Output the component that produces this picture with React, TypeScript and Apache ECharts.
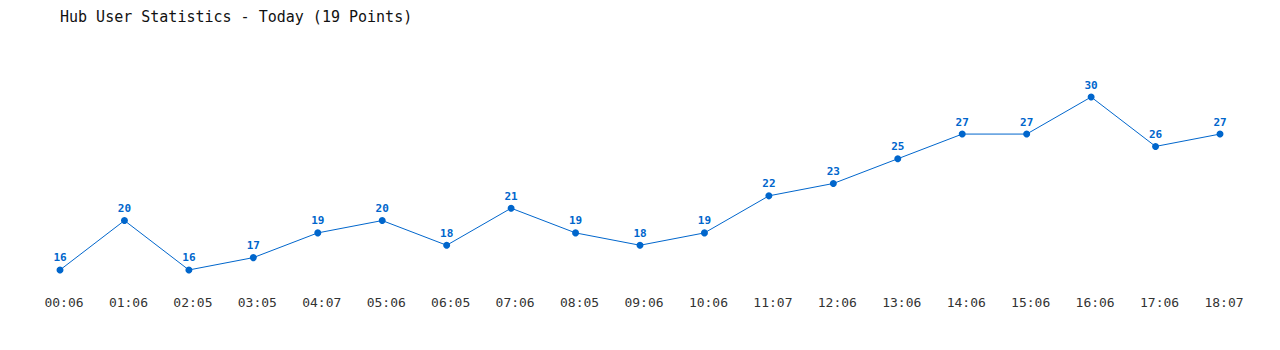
import React, { useEffect, useRef } from "react";
import * as echarts from "echarts";

const TITLE = "Hub User Statistics - Today (19 Points)";
const categories = [
  "00:06", "01:06", "02:05", "03:05", "04:07", "05:06", "06:05", "07:06", "08:05", "09:06",
  "10:06", "11:07", "12:06", "13:06", "14:06", "15:06", "16:06", "17:06", "18:07",
];
const users = [16, 20, 16, 17, 19, 20, 18, 21, 19, 18, 19, 22, 23, 25, 27, 27, 30, 26, 27];

const FONT = "'DejaVu Sans Mono', 'Liberation Mono', monospace";
const BLUE = "#0066cc";

export default function App() {
  const ref = useRef<HTMLDivElement>(null);
  useEffect(() => {
    if (!ref.current) return;
    const chart = echarts.init(ref.current, undefined, { renderer: "svg" });
    chart.setOption({
      animation: false,
      backgroundColor: "#ffffff",
      title: {
        text: TITLE,
        left: 60,
        top: 9,
        padding: 0,
        textStyle: { fontFamily: FONT, fontSize: 15, fontWeight: "normal", color: "#111111" },
      },
      grid: { left: 60, right: 60, top: 72.3, bottom: 61.5 },
      xAxis: {
        type: "category",
        data: categories,
        boundaryGap: false,
        axisLine: { show: false },
        axisTick: { show: false },
        splitLine: { show: false },
        axisLabel: {
          fontFamily: FONT,
          fontSize: 13,
          color: "#333333",
          margin: 7,
          interval: 0,
          padding: [0, 0, 0, 8],
        },
      },
      yAxis: {
        type: "value",
        min: 14.5,
        max: 32,
        show: false,
        splitLine: { show: false },
      },
      series: [
        {
          type: "line",
          data: users,
          symbol: "circle",
          symbolSize: 7,
          itemStyle: { color: BLUE },
          lineStyle: { color: BLUE, width: 1 },
          label: {
            show: true,
            position: "top",
            distance: 3,
            fontFamily: FONT,
            fontSize: 11,
            fontWeight: "bold",
            color: BLUE,
          },
        },
      ],
    });
    return () => chart.dispose();
  }, []);
  return (
    <div
      ref={ref}
      style={{ position: "fixed", left: 0, top: 0, width: 1280, height: 350, background: "#fff" }}
    />
  );
}
